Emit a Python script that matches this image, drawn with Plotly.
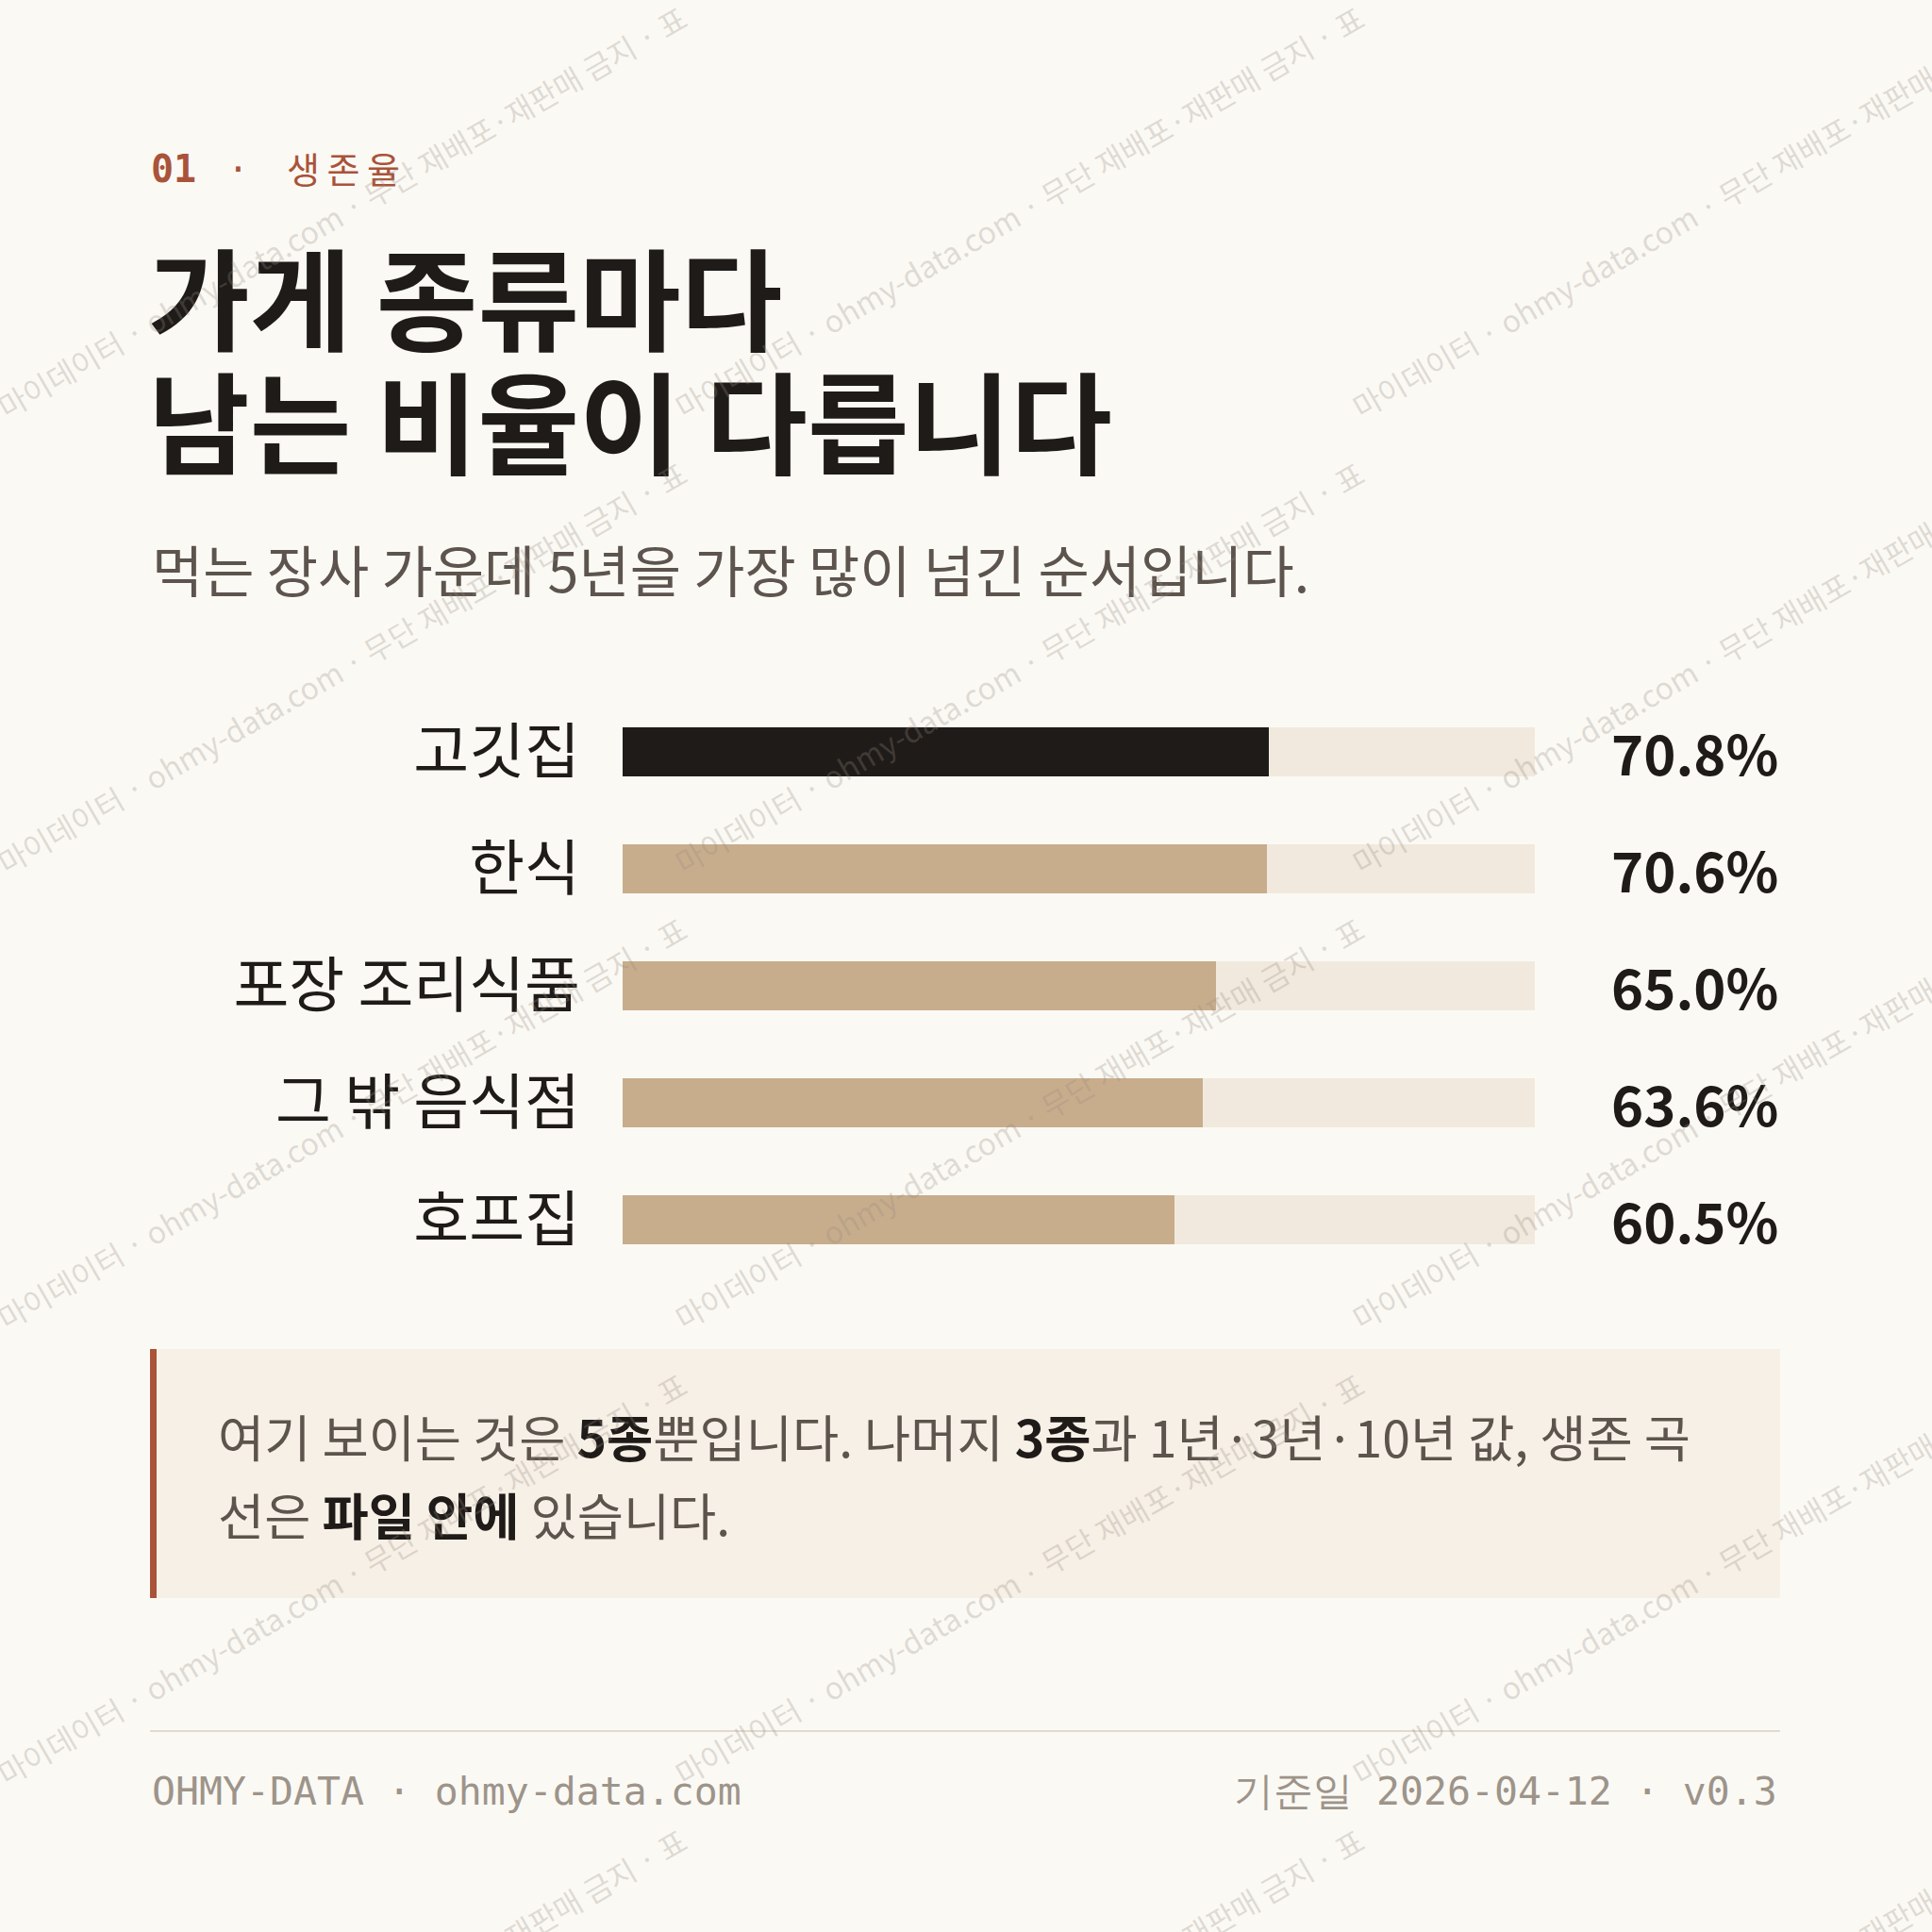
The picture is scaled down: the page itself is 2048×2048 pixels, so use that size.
import plotly.graph_objects as go

# data
categories = ["고깃집", "한식", "포장 조리식품", "그 밖 음식점", "호프집"]
survival_5yr = [70.8, 70.6, 65.0, 63.6, 60.5]
track_max = 100

kicker_num = "01"
kicker_txt = "생\u2009존\u2009율"
title_lines = ["가게 종류마다", "남는 비율이 다릅니다"]
subtitle = "먹는 장사 가운데 5년을 가장 많이 넘긴 순서입니다."
note_lines = [
    "여기 보이는 것은 <b style='color:#1f1b18'>5종</b>뿐입니다. 나머지 <b style='color:#1f1b18'>3종</b>과 1년·3년·10년 값, 생존 곡",
    "선은 <b style='color:#1f1b18'>파일 안에</b> 있습니다.",
]
footer_left = "OHMY-DATA · ohmy-data.com"
footer_right = "기준일 2026-04-12 · v0.3"
watermark = "마이데이터 · ohmy-data.com · 무단 재배포·재판매 금지 · 표"

W = H = 2048
BG = "#fbf9f4"
INK = "#1f1b18"
RUST = "#a9533a"
TAN = "#c8ad8c"
TRACK = "#f1e9dd"
GREY = "#5c544d"
MUTED = "#9d948a"
KR = "Noto Sans CJK KR"
MONO = "DejaVu Sans Mono"


def px(x):
    return x / W


def py(y):
    # pixel from top -> paper y
    return 1 - y / H


bar_colors = [INK] + [TAN] * (len(categories) - 1)

fig = go.Figure()

fig.add_trace(go.Bar(
    y=categories, x=[track_max] * len(categories), orientation="h",
    marker=dict(color=TRACK, line=dict(width=0)), width=0.42,
    hoverinfo="skip", showlegend=False,
))
fig.add_trace(go.Bar(
    y=categories, x=survival_5yr, orientation="h",
    marker=dict(color=bar_colors, line=dict(width=0)), width=0.42,
    showlegend=False,
))

annotations = []

# value labels at the right
for cat, v in zip(categories, survival_5yr):
    annotations.append(dict(
        x=px(1887), xref="paper", y=cat, yref="y", xanchor="right", yanchor="middle",
        text=f"{v:.1f}%", showarrow=False,
        font=dict(family=KR, size=58, color=INK, weight="bold"),
    ))

# kicker
annotations += [
    dict(x=px(158), y=py(179), text=f"<b>{kicker_num}</b>", xanchor="left", yanchor="middle",
         font=dict(family=MONO, size=40, color=RUST)),
    dict(x=px(252), y=py(179), text="·", xanchor="center", yanchor="middle",
         font=dict(family=MONO, size=38, color=RUST)),
    dict(x=px(302), y=py(177), text=kicker_txt, xanchor="left", yanchor="middle",
         font=dict(family=KR, size=38, color=RUST)),
]

# title + subtitle
for i, line in enumerate(title_lines):
    annotations.append(dict(
        x=px(155), y=py(312 + 131 * i), text=line, xanchor="left", yanchor="middle",
        font=dict(family=KR, size=117, color=INK, weight="bold"),
    ))
annotations.append(dict(
    x=px(159), y=py(602), text=subtitle, xanchor="left", yanchor="middle",
    font=dict(family=KR, size=59, color=GREY),
))

# note box text
for i, line in enumerate(note_lines):
    annotations.append(dict(
        x=px(229), y=py(1521 + 83 * i), text=line, xanchor="left", yanchor="middle",
        font=dict(family=KR, size=53.5, color=GREY),
    ))

# footer
annotations += [
    dict(x=px(159), y=py(1898), text=footer_left, xanchor="left", yanchor="middle",
         font=dict(family=MONO, size=41.5, color=MUTED)),
    dict(x=px(1886), y=py(1898), text=footer_right, xanchor="right", yanchor="middle",
         font=dict(family=MONO, size=41.5, color=MUTED)),
]

# watermark tiles
for k in range(5):
    for j in range(3):
        annotations.append(dict(
            x=px(362 + 718 * j), y=py(224 + 483 * k), text=watermark,
            xanchor="center", yanchor="middle", textangle=-30,
            font=dict(family=KR, size=32, color="rgba(150,140,130,0.28)"),
        ))

for a in annotations:
    a.setdefault("xref", "paper")
    a.setdefault("yref", "paper")
    a["showarrow"] = False

shapes = [
    # note box
    dict(type="rect", xref="paper", yref="paper", x0=px(159), x1=px(1887), y0=py(1694), y1=py(1430),
         fillcolor="#f7f0e6", line=dict(width=0), layer="below"),
    dict(type="rect", xref="paper", yref="paper", x0=px(159), x1=px(166), y0=py(1694), y1=py(1430),
         fillcolor=RUST, line=dict(width=0), layer="below"),
    # footer rule
    dict(type="line", xref="paper", yref="paper", x0=px(159), x1=px(1887), y0=py(1835), y1=py(1835),
         line=dict(color="#e2dacf", width=2)),
]

fig.update_layout(
    width=W, height=H,
    margin=dict(l=0, r=0, t=0, b=0),
    paper_bgcolor=BG, plot_bgcolor=BG,
    barmode="overlay", bargap=0,
    xaxis=dict(domain=[px(660), px(1627)], range=[0, track_max], visible=False, fixedrange=True),
    yaxis=dict(
        domain=[py(1355), py(735)], categoryorder="array", categoryarray=categories,
        range=[len(categories) - 0.5, -0.5], showgrid=False, zeroline=False, showline=False,
        ticks="", ticklabelstandoff=44,
        tickfont=dict(family=KR, size=64, color=INK),
    ),
    annotations=annotations,
    shapes=shapes,
)

fig.write_html("out.html", config={"displayModeBar": False},
               post_script="document.body.style.margin='0';")
